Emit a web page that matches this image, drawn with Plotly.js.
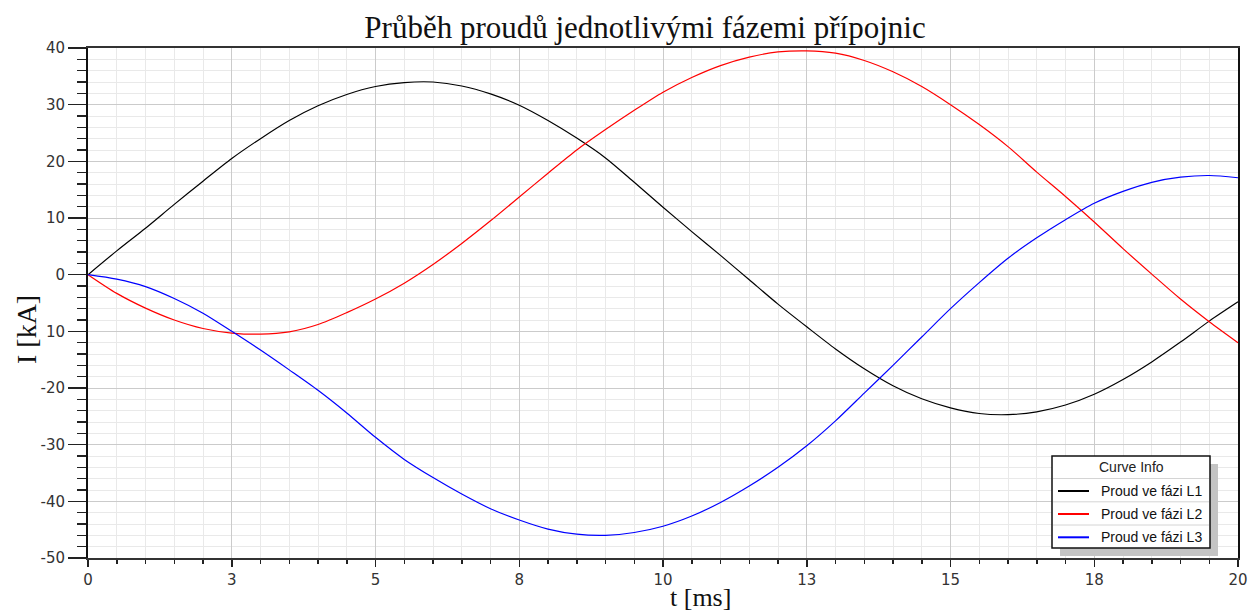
<!DOCTYPE html>
<html>
<head>
<meta charset="utf-8">
<script src="https://cdn.plot.ly/plotly-3.0.1.min.js"></script>
<style>html,body{margin:0;padding:0;background:#fff;}#chart{width:1258px;height:613px;}</style>
</head>
<body>
<div id="chart"></div>
<script>
// ---- data ----
var t = [0,0.5,1,1.5,2,2.5,3,3.5,4,4.5,5,5.5,6,6.5,7,7.5,8,8.5,9,9.5,10,
         10.5,11,11.5,12,12.5,13,13.5,14,14.5,15,15.5,16,16.5,17,17.5,18,18.5,19,19.5,20];
var iL1 = [0,4.2,8.2,12.4,16.5,20.5,24.0,27.2,29.8,31.8,33.2,33.9,34.0,33.3,31.9,29.9,27.2,24.1,20.6,16.3,11.9,
           7.6,3.4,-0.9,-5.2,-9.2,-13.1,-16.6,-19.6,-21.9,-23.5,-24.5,-24.7,-24.2,-23.0,-21.1,-18.5,-15.4,-11.9,-8.2,-4.8];
var iL2 = [0,-3.3,-5.9,-8.0,-9.5,-10.3,-10.5,-10.1,-8.8,-6.7,-4.3,-1.5,1.8,5.5,9.5,13.7,17.9,22.0,25.6,29.0,32.2,
           34.8,36.9,38.4,39.3,39.5,39.1,37.8,35.8,33.2,30.0,26.5,22.6,18.1,13.8,9.3,4.6,0.1,-4.3,-8.3,-12.0];
var iL3 = [0,-0.8,-2.1,-4.2,-6.8,-10.0,-13.3,-16.8,-20.4,-24.4,-28.7,-32.6,-35.8,-38.7,-41.3,-43.3,-44.9,-45.8,-46.0,-45.5,-44.4,
           -42.6,-40.2,-37.3,-34.0,-30.2,-25.8,-20.9,-16.0,-11.0,-6.0,-1.4,2.9,6.5,9.7,12.6,14.7,16.3,17.2,17.5,17.1];
var seriesNames = ["Proud ve fázi L1","Proud ve fázi L2","Proud ve fázi L3"];
var seriesColors = ["#000000","#ff0000","#0000ff"];
var xTickVals = [0,2.5,5,7.5,10,12.5,15,17.5,20];
var xTickText = ["0","3","5","8","10","13","15","18","20"];
var yTickVals = [40,30,20,10,0,-10,-20,-30,-40,-50];
var yTickText = ["40","30","20","10","0","10","-20","-30","-40","-50"];
var titleText = "Průběh proudů jednotlivými fázemi přípojnic";
var xTitle = "t [ms]";
var yTitle = "I [kA]";
var legendTitle = "Curve Info";

// ---- layout helpers (pixel -> paper) ----
var L = 88, R = 1238, T = 48, B = 558;
function px(x){ return (x - L) / (R - L); }
function py(y){ return (B - y) / (B - T); }

var ys = [iL1, iL2, iL3];
var traces = ys.map(function(v, k){
  return {x: t, y: v, type: "scatter", mode: "lines", name: seriesNames[k],
          line: {color: seriesColors[k], width: 1.2, shape: "spline", smoothing: 0.8}, showlegend: false};
});

var tickFont = {family: "DejaVu Sans", size: 15, color: "#333"};
var serif = "Liberation Serif";

var shapes = [];
var annotations = [];
// legend box
shapes.push({type:"rect", xref:"paper", yref:"paper", x0:px(1060), x1:px(1218), y0:py(464), y1:py(556),
             fillcolor:"#c4c4c4", line:{width:0}, layer:"above"});
shapes.push({type:"rect", xref:"paper", yref:"paper", x0:px(1052), x1:px(1210), y0:py(456), y1:py(548),
             fillcolor:"#ffffff", line:{color:"#111", width:1.5}, layer:"above"});
[478.5, 501.8, 525].forEach(function(yy){
  shapes.push({type:"line", xref:"paper", yref:"paper", x0:px(1053), x1:px(1209), y0:py(yy), y1:py(yy),
               line:{color:"#d4d4d4", width:1}, layer:"above"});
});
annotations.push({xref:"paper", yref:"paper", x:px(1131.5), y:py(467.3), text:legendTitle, showarrow:false,
                  xanchor:"center", yanchor:"middle", font:{family:"Liberation Sans", size:14, color:"#222"}});
var rowY = [491, 514, 537.3];
seriesNames.forEach(function(n, k){
  shapes.push({type:"line", xref:"paper", yref:"paper", x0:px(1058), x1:px(1089), y0:py(rowY[k]), y1:py(rowY[k]),
               line:{color:seriesColors[k], width:2}, layer:"above"});
  annotations.push({xref:"paper", yref:"paper", x:px(1099), y:py(rowY[k]), text:n, showarrow:false,
                    xanchor:"left", yanchor:"middle", font:{family:"Liberation Sans", size:14, color:"#111"}});
});
// axis titles
annotations.push({xref:"paper", yref:"paper", x:px(700), y:py(613), text:xTitle, showarrow:false, borderpad:0,
                  xanchor:"center", yanchor:"bottom", font:{family:serif, size:26, color:"#111"}});
annotations.push({xref:"paper", yref:"paper", x:px(26), y:py(330), text:yTitle, showarrow:false, textangle:-90,
                  xanchor:"center", yanchor:"middle", font:{family:serif, size:28, color:"#111"}});

var layout = {
  width: 1258, height: 613,
  margin: {l: L, r: 1258 - R, t: T, b: 613 - B, pad: 0},
  paper_bgcolor: "#fff", plot_bgcolor: "#fff",
  title: {text: titleText, font: {family: serif, size: 31, color: "#111"},
          x: 645/1258, xref: "container", xanchor: "center", y: 1 - 27/613, yref: "container", yanchor: "middle"},
  xaxis: {range: [0, 20], tickvals: xTickVals, ticktext: xTickText, ticks: "outside", ticklen: 7, tickwidth: 1.5,
          tickcolor: "#222", showline: true, linecolor: "#333", linewidth: 2, mirror: true,
          showgrid: true, gridcolor: "#cbcbcb", gridwidth: 1, zeroline: false, tickfont: tickFont,
          minor: {dtick: 0.5, tick0: 0, ticks: "outside", ticklen: 4, tickcolor: "#222", showgrid: true, gridcolor: "#e9e9e9", gridwidth: 1}},
  yaxis: {range: [-50, 40], tickvals: yTickVals, ticktext: yTickText, ticks: "outside", ticklen: 18, tickwidth: 1.5,
          tickcolor: "#222", showline: true, linecolor: "#111", linewidth: 2, mirror: true,
          showgrid: true, gridcolor: "#cbcbcb", gridwidth: 1, zeroline: false, tickfont: tickFont,
          minor: {dtick: 2, tick0: 0, ticks: "outside", ticklen: 9, tickcolor: "#222", showgrid: true, gridcolor: "#e9e9e9", gridwidth: 1}},
  shapes: shapes,
  annotations: annotations,
  showlegend: false
};

Plotly.newPlot("chart", traces, layout, {displayModeBar: false, staticPlot: true});
</script>
</body>
</html>
